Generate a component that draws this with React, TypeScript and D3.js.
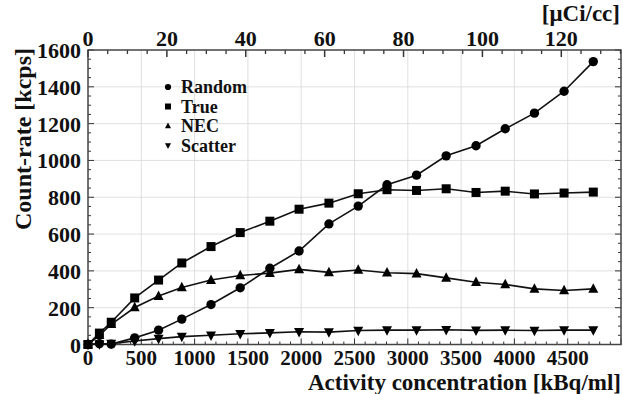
import React from 'react';
import * as d3 from 'd3';

// activity concentration [kBq/ml] of each measurement
const activity = [0, 107, 218, 438, 662, 880, 1154, 1428, 1706, 1980, 2260, 2535, 2805, 3082, 3360, 3640, 3914, 4188, 4466, 4740];
// count-rates [kcps]
const randomRate = [0, 5, 2, 36, 78, 138, 217, 308, 414, 508, 655, 752, 868, 920, 1025, 1080, 1172, 1257, 1376, 1537];
const trueRate = [0, 62, 121, 253, 350, 443, 532, 608, 670, 735, 768, 819, 841, 837, 846, 826, 833, 818, 823, 828];
const necRate = [0, 50, 110, 201, 263, 310, 350, 375, 388, 408, 392, 405, 390, 385, 362, 338, 326, 302, 293, 302];
const scatterRate = [0, 3, 5, 19, 32, 43, 50, 58, 63, 69, 67, 76, 78, 78, 80, 77, 78, 76, 78, 78];

const seriesNames = ['Random', 'True', 'NEC', 'Scatter'];
const bottomTicks = [0, 500, 1000, 1500, 2000, 2500, 3000, 3500, 4000, 4500];
const leftTicks = [0, 200, 400, 600, 800, 1000, 1200, 1400, 1600];
const topTicks = [0, 20, 40, 60, 80, 100, 120];

const W = 623;
const H = 394;
const FONT = '"Liberation Serif", "Times New Roman", serif';
const KBQ_PER_UCI = 37;

type Shape = 'circle' | 'square' | 'up' | 'down';

const marker = (shape: Shape, x: number, y: number, s: number, key: string | number) => {
  if (shape === 'circle') return <circle key={key} cx={x} cy={y} r={s * 0.52} fill="#000" />;
  if (shape === 'square') return <rect key={key} x={x - s / 2} y={y - s / 2} width={s} height={s} fill="#000" />;
  const h = s * 0.95;
  const pts = shape === 'up'
    ? `${x},${y - h * 0.6} ${x - s / 2},${y + h * 0.4} ${x + s / 2},${y + h * 0.4}`
    : `${x},${y + h * 0.6} ${x - s / 2},${y - h * 0.4} ${x + s / 2},${y - h * 0.4}`;
  return <polygon key={key} points={pts} fill="#000" />;
};

const App: React.FC = () => {
  const x = d3.scaleLinear().domain([0, 5000]).range([88, 621]);
  const xTop = d3.scaleLinear().domain([0, 5000 / KBQ_PER_UCI]).range([88, 621]);
  const y = d3.scaleLinear().domain([0, 1600]).range([344.5, 50]);

  const series: { name: string; values: number[]; shape: Shape; size: number }[] = [
    { name: seriesNames[0], values: randomRate, shape: 'circle', size: 9 },
    { name: seriesNames[1], values: trueRate, shape: 'square', size: 9 },
    { name: seriesNames[2], values: necRate, shape: 'up', size: 10 },
    { name: seriesNames[3], values: scatterRate, shape: 'down', size: 10 },
  ];

  const line = d3.line<number>()
    .x((_, i) => x(activity[i]))
    .y(d => y(d));

  const bottomMinor = d3.range(0, 5001, 100);
  const leftMinor = d3.range(0, 1601, 50);
  const topMinor = d3.range(0, 5000 / KBQ_PER_UCI, 5);

  const [x0, x1] = x.range();
  const [y0, y1] = y.range();

  return (
    <svg width={W} height={H} style={{ position: 'absolute', left: 0, top: 0, background: '#fff' }} fontFamily={FONT}>
      {/* grid */}
      <g stroke="#d8d8d8" strokeWidth={0.8}>
        {bottomTicks.slice(1).map(t => <line key={'gx' + t} x1={x(t)} x2={x(t)} y1={y0} y2={y1} />)}
        {leftTicks.slice(1, -1).map(t => <line key={'gy' + t} x1={x0} x2={x1} y1={y(t)} y2={y(t)} />)}
      </g>

      {/* ticks */}
      <g stroke="#333" strokeWidth={1}>
        {bottomMinor.map(t => {
          const major = t % 500 === 0;
          const l = major ? 6 : 3;
          return <line key={'bt' + t} x1={x(t)} x2={x(t)} y1={y0} y2={y0 - l} />;
        })}
        {topMinor.map(t => {
          const major = t % 20 === 0;
          const l = major ? 7 : 4;
          return <line key={'tt' + t} x1={xTop(t)} x2={xTop(t)} y1={y1} y2={y1 + l} strokeWidth={major ? 1.5 : 1.3} />;
        })}
        {leftMinor.map(t => {
          const major = t % 200 === 0;
          const l = major ? 6 : 3;
          return (
            <g key={'lt' + t}>
              <line x1={x0} x2={x0 + l} y1={y(t)} y2={y(t)} />
              <line x1={x1} x2={x1 - l} y1={y(t)} y2={y(t)} />
            </g>
          );
        })}
      </g>

      {/* frame */}
      <rect x={x0} y={y1} width={x1 - x0} height={y0 - y1} fill="none" stroke="#444" strokeWidth={1.5} />

      {/* series */}
      {series.map(s => (
        <g key={s.name}>
          <path d={line(s.values) || ''} fill="none" stroke="#111" strokeWidth={1.6} />
          {s.values.map((v, i) => marker(s.shape, x(activity[i]), y(v), s.size, i))}
        </g>
      ))}

      {/* tick labels */}
      <g fontWeight="bold" fontSize={22} fill="#111">
        {bottomTicks.map(t => (
          <text key={'bl' + t} x={x(t)} y={365} fontSize={21} textAnchor="middle">{t}</text>
        ))}
        {leftTicks.map(t => (
          <text key={'ll' + t} x={81} y={y(t) + 8} textAnchor="end">{t}</text>
        ))}
        {topTicks.map(t => (
          <text key={'tl' + t} x={xTop(t)} y={46} textAnchor="middle">{t}</text>
        ))}
      </g>

      {/* axis titles */}
      <g fontWeight="bold" fontSize={24} fill="#111">
        <text x={621} y={390} fontSize={23} textAnchor="end">Activity concentration [kBq/ml]</text>
        <text x={620} y={21} fontSize={23} textAnchor="end">[μCi/cc]</text>
        <text transform="translate(31,139) rotate(-90)" textAnchor="middle">Count-rate [kcps]</text>
      </g>

      {/* legend */}
      <g fontWeight="bold" fontSize={18} fill="#111">
        {series.map((s, i) => (
          <g key={'lg' + s.name}>
            {marker(s.shape, 168, 87 + i * 19.5, 6, 'm')}
            <text x={181} y={87 + i * 19.5 + 6}>{s.name}</text>
          </g>
        ))}
      </g>
    </svg>
  );
};

export default App;
